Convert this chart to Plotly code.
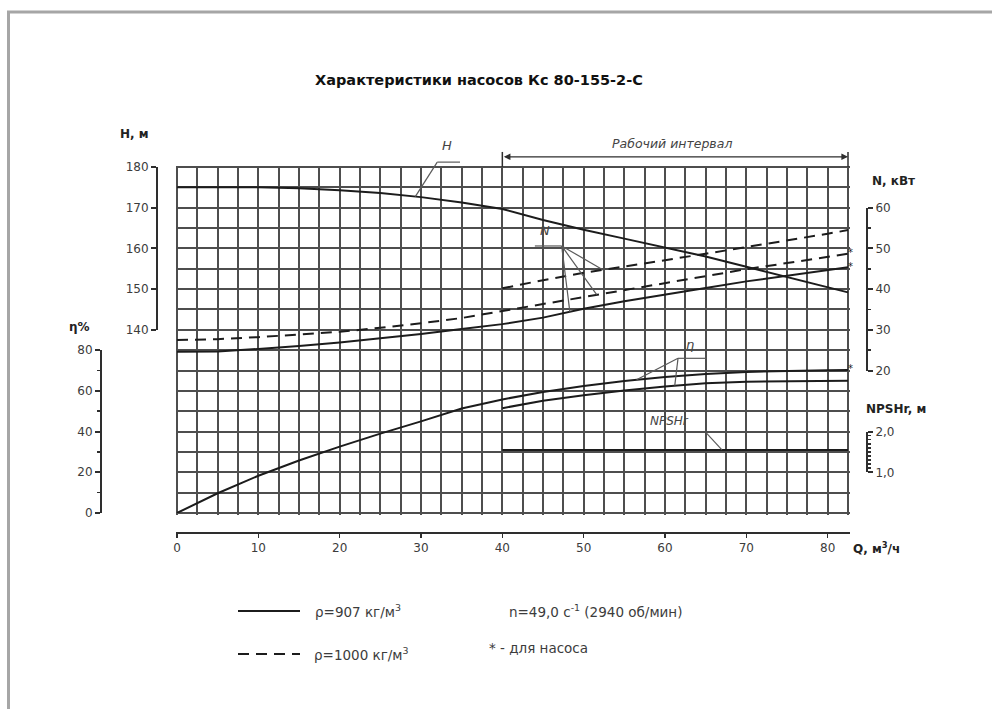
import numpy as np
import plotly.graph_objects as go

# ---------------- data ----------------
Q = [0, 5, 10, 15, 20, 25, 30, 35, 40, 45, 50, 55, 60, 65, 70, 75, 80, 82.5]
H_HEAD = [175.0, 175.0, 175.0, 174.8, 174.3, 173.6, 172.6, 171.3, 169.7, 167.0,
          164.6, 162.4, 160.2, 158.0, 155.5, 153.0, 150.4, 149.2]
N_PUMP_907 = [24.6, 24.7, 25.3, 26.0, 26.9, 27.9, 29.0, 30.2, 31.4, 33.0,
              35.2, 37.0, 38.7, 40.3, 41.9, 43.3, 44.6, 45.4]
N_PUMP_1000 = [27.5, 27.7, 28.2, 28.8, 29.5, 30.5, 31.6, 32.9, 34.6, 36.3,
               38.1, 39.8, 41.5, 43.2, 44.9, 46.4, 47.9, 48.7]
ETA_PUMP = [0.0, 9.7, 18.3, 25.8, 32.6, 39.0, 45.0, 51.3, 55.8, 59.5,
            62.4, 64.9, 66.8, 68.3, 69.3, 69.9, 70.2, 70.3]

Q_WORK = [40, 45, 50, 55, 60, 65, 70, 75, 80, 82.5]
N_UNIT_1000 = [40.2, 42.2, 44.0, 45.5, 47.1, 48.7, 50.3, 51.9, 53.6, 54.5]
ETA_UNIT = [51.5, 55.2, 57.8, 60.2, 62.2, 63.7, 64.5, 64.8, 65.0, 65.0]
NPSHR = [1.55, 1.55, 1.55, 1.55, 1.55, 1.55, 1.55, 1.55, 1.55, 1.55]

H_TICKS = [140, 150, 160, 170, 180]
ETA_TICKS = [0, 20, 40, 60, 80]
N_TICKS = [20, 30, 40, 50, 60]
NPSH_TICKS = [1.0, 2.0]
NPSH_TICKTEXT = ["1,0", "2,0"]

TITLE = "Характеристики насосов Кс 80-155-2-С"
LEG_907 = "ρ=907 кг/м<sup>3</sup>"
LEG_1000 = "ρ=1000 кг/м<sup>3</sup>"
NOTE_N = "n=49,0 с<sup>-1</sup> (2940 об/мин)"
NOTE_STAR = "* - для насоса"

# ---------------- page geometry ----------------
W, HT = 992, 709
def fx(p): return p / W
def fy(p): return (HT - p) / HT

GX0, GX1, GY0, GY1 = 177, 848, 167, 513      # grid box in px
Q_MAX = 82.5
H_LO, H_HI = 95.0, 180.0                      # grid in head units (17 rows x 5 m)
PX_Q = (GX1 - GX0) / Q_MAX
PX_H = (GY1 - GY0) / (H_HI - H_LO)
PAD = 1.5

def gx(q): return fx(GX0 + q * PX_Q)
def gy(h): return fy(GY0 + (H_HI - h) * PX_H)
def h_eta(e): return H_LO + e / 2.0
def h_n(n): return n + 110.0
def h_npsh(v): return H_LO + 10.0 * v

FONT = "DejaVu Sans, Verdana, sans-serif"
INK = "#1c1c1c"
GRID_C = "#4e4e4e"
AX_C = "#2e2e2e"
LAB_C = "#3c3c3c"
LEAD_C = "#5a5a5a"
DASH = "11px,7px"

x_range = [-PAD / PX_Q, Q_MAX + PAD / PX_Q]
x_dom = [fx(GX0 - PAD), fx(GX1 + PAD)]

fig = go.Figure()
line_s = dict(color=INK, width=2)
line_d = dict(color=INK, width=2, dash=DASH)
common = dict(mode="lines", hoverinfo="skip", showlegend=False)

fig.add_trace(go.Scatter(x=Q, y=H_HEAD, line=line_s, xaxis="x", yaxis="y", **common))
fig.add_trace(go.Scatter(x=[Q[0]], y=[H_TICKS[0]], mode="markers", marker=dict(opacity=0),
                         hoverinfo="skip", showlegend=False, xaxis="x2", yaxis="y5"))
fig.add_trace(go.Scatter(x=Q, y=N_PUMP_907, line=line_s, xaxis="x2", yaxis="y3", **common))
fig.add_trace(go.Scatter(x=Q, y=N_PUMP_1000, line=line_d, xaxis="x2", yaxis="y3", **common))
fig.add_trace(go.Scatter(x=Q_WORK, y=N_UNIT_1000, line=line_d, xaxis="x2", yaxis="y3", **common))
fig.add_trace(go.Scatter(x=Q, y=ETA_PUMP, line=line_s, xaxis="x2", yaxis="y2", **common))
fig.add_trace(go.Scatter(x=Q_WORK, y=ETA_UNIT, line=line_s, xaxis="x2", yaxis="y2", **common))
fig.add_trace(go.Scatter(x=Q_WORK, y=NPSHR, line=line_s, xaxis="x2", yaxis="y4", **common))
star_font = dict(family=FONT, size=10, color=INK)
fig.add_trace(go.Scatter(x=[Q[-1], Q[-1]], y=[N_PUMP_1000[-1], N_PUMP_907[-1]], mode="text",
                         text=["*", "*"], textposition="middle right", textfont=star_font,
                         cliponaxis=False, hoverinfo="skip", showlegend=False,
                         xaxis="x2", yaxis="y3"))
fig.add_trace(go.Scatter(x=[Q[-1]], y=[ETA_PUMP[-1]], mode="text", text=["*"],
                         textposition="middle right", textfont=star_font, cliponaxis=False,
                         hoverinfo="skip", showlegend=False, xaxis="x2", yaxis="y2"))

tickfont = dict(family=FONT, size=12, color=LAB_C)
def bracket(dom, rng, pos, side, tickvals, minor_dtick=None, ticktext=None):
    d = dict(domain=dom, range=rng, anchor="free", position=pos, side=side,
             showline=True, linewidth=2, linecolor=AX_C, ticks="outside", ticklen=5,
             tickwidth=2, tickcolor=AX_C, tickmode="array", tickvals=tickvals,
             showgrid=False, zeroline=False, tickfont=tickfont, fixedrange=True)
    if ticktext is not None:
        d["ticktext"] = ticktext
    if minor_dtick:
        d["minor"] = dict(tickmode="linear", dtick=minor_dtick, tick0=rng[0], ticks="outside",
                          ticklen=3, tickwidth=1.5, tickcolor=AX_C, showgrid=False)
    return d

layout = dict(
    width=W, height=HT, margin=dict(l=0, r=0, t=0, b=0), template="none",
    paper_bgcolor="white", plot_bgcolor="rgba(0,0,0,0)", showlegend=False,
    hovermode=False, font=dict(family=FONT, size=12, color=LAB_C),
    xaxis=dict(domain=x_dom, range=x_range, anchor="free", position=fy(533),
               showline=True, linewidth=2, linecolor=AX_C, ticks="outside", ticklen=4,
               tickwidth=1.5, tickcolor=AX_C, tickmode="linear", tick0=0, dtick=10,
               showgrid=True, gridcolor=GRID_C, gridwidth=2, zeroline=False,
               tickfont=tickfont, fixedrange=True,
               minor=dict(dtick=2.5, tick0=0, showgrid=True, gridcolor=GRID_C,
                          gridwidth=2, ticks="")),
    xaxis2=dict(domain=x_dom, range=x_range, visible=False, anchor="free", position=0,
                fixedrange=True),
    yaxis=dict(domain=[fy(GY1 + PAD), fy(GY0 - PAD)],
               range=[H_LO - PAD / PX_H, H_HI + PAD / PX_H], anchor="x",
               tickmode="linear", tick0=0, dtick=5, showgrid=True, gridcolor=GRID_C,
               gridwidth=2, showticklabels=False, ticks="", showline=False,
               zeroline=False, fixedrange=True),
    yaxis5=bracket([gy(H_TICKS[0]), gy(H_TICKS[-1])], [H_TICKS[0], H_TICKS[-1]],
                   fx(157), "left", H_TICKS),
    yaxis2=bracket([gy(h_eta(ETA_TICKS[0])), gy(h_eta(ETA_TICKS[-1]))],
                   [ETA_TICKS[0], ETA_TICKS[-1]], fx(101), "left", ETA_TICKS, 10),
    yaxis3=bracket([gy(h_n(N_TICKS[0])), gy(h_n(N_TICKS[-1]))],
                   [N_TICKS[0], N_TICKS[-1]], fx(867), "right", N_TICKS, 5),
    yaxis4=bracket([gy(h_npsh(NPSH_TICKS[0])), gy(h_npsh(NPSH_TICKS[-1]))],
                   [NPSH_TICKS[0], NPSH_TICKS[-1]], fx(867), "right", NPSH_TICKS, 0.1,
                   NPSH_TICKTEXT),
)

shapes, ann = [], []

def seg(x0, y0, x1, y1, color=LEAD_C, width=1.2, dash=None):
    ln = dict(color=color, width=width)
    if dash:
        ln["dash"] = dash
    shapes.append(dict(type="line", xref="paper", yref="paper", x0=x0, y0=y0,
                       x1=x1, y1=y1, line=ln, layer="above"))

def text(x, y, s, size=12, color=LAB_C, xanchor="center", italic=False, bold=False):
    if bold:
        s = "<b>" + s + "</b>"
    if italic:
        s = "<i>" + s + "</i>"
    ann.append(dict(xref="paper", yref="paper", x=x, y=y, text=s, showarrow=False,
                    xanchor=xanchor, yanchor="middle",
                    font=dict(family=FONT, size=size, color=color)))

# leader callouts (positions in data units)
# H
seg(gx(32.0), gy(181.2), gx(34.8), gy(181.2))
seg(gx(32.0), gy(181.2), gx(29.3), gy(np.interp(29.3, Q, H_HEAD)))
text(gx(33.2), gy(185.2), "H", size=13, color="#444", italic=True)
# N
seg(gx(44.0), gy(h_n(50.6)), gx(47.3), gy(h_n(50.6)))
for qt, arr_q, arr in [(52.4, Q_WORK, N_UNIT_1000), (51.6, Q, N_PUMP_1000), (48.3, Q, N_PUMP_907)]:
    seg(gx(47.3), gy(h_n(50.6)), gx(qt), gy(h_n(np.interp(qt, arr_q, arr))))
text(gx(45.2), gy(h_n(54.3)), "N", size=13, color="#444", italic=True)
# eta
seg(gx(61.6), gy(h_eta(76.0)), gx(65.1), gy(h_eta(76.0)))
for qt, arr_q, arr in [(56.5, Q, ETA_PUMP), (61.2, Q_WORK, ETA_UNIT)]:
    seg(gx(61.6), gy(h_eta(76.0)), gx(qt), gy(h_eta(np.interp(qt, arr_q, arr))))
text(gx(63.1), gy(h_eta(82.6)), "η", size=13, color="#444", italic=True)
# NPSHr
seg(gx(65.1), gy(h_npsh(1.96)), gx(67.0), gy(h_npsh(np.interp(67.0, Q_WORK, NPSHR))))
text(gx(60.6), gy(h_npsh(2.27)), "NPSHr", size=12, color="#444", italic=True)

# working interval
seg(gx(Q_WORK[0]), gy(183.7), gx(Q_WORK[0]), gy(180), color=AX_C, width=1.5)
seg(gx(Q_WORK[-1]), gy(183.7), gx(Q_WORK[-1]), gy(180), color=AX_C, width=1.5)
ann.append(dict(xref="x", yref="paper", x=Q_WORK[-1], y=gy(182.5), axref="x",
                ax=Q_WORK[0], ayref="pixel", ay=0, text="", showarrow=True,
                arrowhead=2, arrowside="end+start", arrowsize=1.1, arrowwidth=1.2,
                arrowcolor=AX_C))
text(gx(60.8), gy(185.7), "Рабочий интервал", size=12.5, color="#444", italic=True)

# axis titles
text(fx(134), fy(134), "H, м", bold=True, color="#222")
text(fx(79), fy(327), "η%", bold=True, color="#222")
text(fx(870), fy(181), "N, кВт", bold=True, color="#222", xanchor="left")
text(fx(864), fy(409), "NPSHr, м", bold=True, color="#222", xanchor="left")
text(fx(851), fy(548), "Q, м<sup>3</sup>/ч", bold=True, color="#222", xanchor="left")

# title
text(fx(479), fy(80), TITLE, size=14.5, bold=True, color="#111")

# legend block
seg(fx(238), fy(611), fx(300), fy(611), color=INK, width=2)
seg(fx(238), fy(654), fx(300), fy(654), color=INK, width=2, dash=DASH)
text(fx(313), fy(611), LEG_907, size=13.5, xanchor="left")
text(fx(312), fy(654), LEG_1000, size=13.5, xanchor="left")
text(fx(507), fy(611), NOTE_N, size=13.5, xanchor="left")
text(fx(487), fy(648), NOTE_STAR, size=13.5, xanchor="left")

# page frame
shapes.append(dict(type="rect", xref="paper", yref="paper", x0=fx(8.5), y0=fy(730),
                   x1=fx(1010), y1=fy(12), line=dict(color="#a6a6a6", width=3),
                   layer="below"))

layout["shapes"] = shapes
layout["annotations"] = ann
fig.update_layout(**layout)
fig.write_html("out.html", config={"displayModeBar": False, "staticPlot": True})
